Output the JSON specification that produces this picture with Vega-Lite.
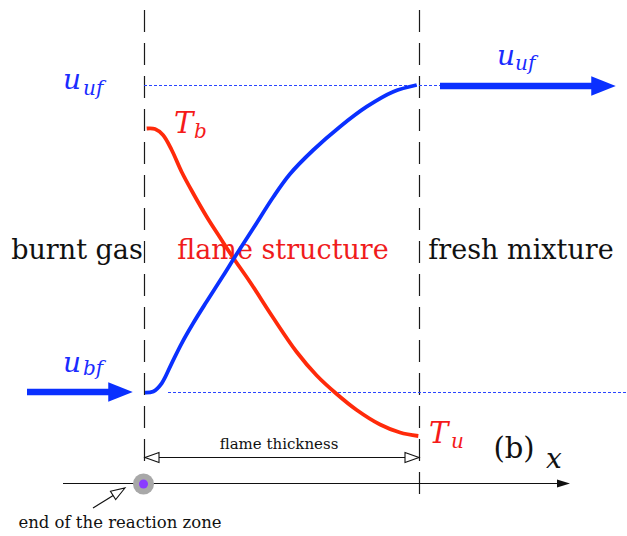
{
  "$schema": "https://vega.github.io/schema/vega-lite/v6.json",
  "width": 627,
  "height": 536,
  "padding": 0,
  "autosize": {"type": "none"},
  "background": "white",
  "config": {"view": {"stroke": null}},
  "datasets": {
    "curves": [
      {"series": "T", "x": 146.7, "y": 128.5},
      {"series": "T", "x": 155, "y": 129},
      {"series": "T", "x": 163, "y": 135},
      {"series": "T", "x": 171.7, "y": 150},
      {"series": "T", "x": 181.7, "y": 172},
      {"series": "T", "x": 193, "y": 193},
      {"series": "T", "x": 206.7, "y": 216.7},
      {"series": "T", "x": 220, "y": 237.5},
      {"series": "T", "x": 233, "y": 257.5},
      {"series": "T", "x": 250, "y": 282},
      {"series": "T", "x": 273, "y": 317.5},
      {"series": "T", "x": 296.7, "y": 352},
      {"series": "T", "x": 316.7, "y": 375.5},
      {"series": "T", "x": 336.7, "y": 394},
      {"series": "T", "x": 356.7, "y": 410},
      {"series": "T", "x": 380, "y": 424.5},
      {"series": "T", "x": 400, "y": 432.5},
      {"series": "T", "x": 418.3, "y": 436},
      {"series": "u", "x": 145, "y": 392.7},
      {"series": "u", "x": 153.3, "y": 391.5},
      {"series": "u", "x": 161.7, "y": 383.3},
      {"series": "u", "x": 171.7, "y": 363.3},
      {"series": "u", "x": 181.7, "y": 343.3},
      {"series": "u", "x": 193.3, "y": 323},
      {"series": "u", "x": 206.7, "y": 301.5},
      {"series": "u", "x": 223.3, "y": 275.5},
      {"series": "u", "x": 236.7, "y": 254},
      {"series": "u", "x": 253.3, "y": 228.3},
      {"series": "u", "x": 273.3, "y": 197},
      {"series": "u", "x": 290, "y": 174},
      {"series": "u", "x": 313.3, "y": 150},
      {"series": "u", "x": 340, "y": 126.7},
      {"series": "u", "x": 366.7, "y": 106.7},
      {"series": "u", "x": 393.3, "y": 91.7},
      {"series": "u", "x": 416.7, "y": 85}
    ],
    "vrules": [
      {"x": 144.5, "y": 10, "y2": 466},
      {"x": 419.5, "y": 10, "y2": 503}
    ],
    "dotted": [
      {"x": 144, "x2": 440, "y": 85.5},
      {"x": 168, "x2": 627, "y": 392.5}
    ],
    "shafts": [
      {"x": 27, "x2": 110, "y": 392},
      {"x": 440, "x2": 594, "y": 86}
    ],
    "bheads": [
      {"x": 120.5, "y": 392},
      {"x": 603.5, "y": 86}
    ],
    "thin": [
      {"x": 150, "x2": 414, "y": 457.5},
      {"x": 63, "x2": 562, "y": 483.5}
    ],
    "diag": [
      {"x": 93, "y": 508, "x2": 114, "y2": 495}
    ],
    "openheads": [
      {"x": 152, "y": 457.5, "dir": 180},
      {"x": 412, "y": 457.5, "dir": 0},
      {"x": 119, "y": 491.7, "dir": 328}
    ],
    "axhead": [
      {"x": 563.5, "y": 483.5}
    ],
    "dot": [
      {"x": 143.5, "y": 484}
    ],
    "labels": [
      {"role": "region", "text": "burnt gas", "x": 77, "y": 259},
      {"role": "region", "text": "fresh mixture", "x": 521, "y": 259},
      {"role": "regionred", "text": "flame structure", "x": 283, "y": 259},
      {"role": "mathBlue", "text": "u", "x": 63, "y": 89},
      {"role": "mathBlue", "text": "u", "x": 497, "y": 65},
      {"role": "mathBlue", "text": "u", "x": 63, "y": 372},
      {"role": "subBlue", "text": "uf", "x": 83, "y": 95},
      {"role": "subBlue", "text": "uf", "x": 515, "y": 70},
      {"role": "subBlue", "text": "bf", "x": 83, "y": 375},
      {"role": "mathRed", "text": "T", "x": 174, "y": 133},
      {"role": "mathRed", "text": "T", "x": 429, "y": 443},
      {"role": "subRed", "text": "b", "x": 194, "y": 138},
      {"role": "subRed", "text": "u", "x": 451, "y": 448},
      {"role": "xlabel", "text": "x", "x": 546, "y": 468},
      {"role": "panel", "text": "(b)", "x": 514, "y": 458},
      {"role": "small", "text": "flame thickness", "x": 279, "y": 449},
      {"role": "caption", "text": "end of the reaction zone", "x": 120, "y": 528}
    ]
  },
  "encoding": {
    "x": {"field": "x", "type": "quantitative", "scale": {"domain": [0, 627], "nice": false, "zero": false}, "axis": null},
    "y": {"field": "y", "type": "quantitative", "scale": {"domain": [0, 536], "nice": false, "zero": false, "reverse": true}, "axis": null}
  },
  "layer": [
    {
      "data": {"name": "vrules"},
      "mark": {"type": "rule", "color": "#1a1a1a", "strokeWidth": 1.2, "strokeDash": [22, 11]},
      "encoding": {"y2": {"field": "y2"}}
    },
    {
      "data": {"name": "dotted"},
      "mark": {"type": "rule", "color": "#2a45ff", "strokeWidth": 1.2, "strokeDash": [3, 2]},
      "encoding": {"x2": {"field": "x2"}}
    },
    {
      "data": {"name": "labels"},
      "transform": [{"filter": "datum.role == 'region'"}],
      "mark": {"type": "text", "font": "DejaVu Serif", "fontSize": 27, "align": "center", "baseline": "alphabetic", "color": "#111111"},
      "encoding": {"text": {"field": "text"}}
    },
    {
      "data": {"name": "labels"},
      "transform": [{"filter": "datum.role == 'regionred'"}],
      "mark": {"type": "text", "font": "DejaVu Serif", "fontSize": 27, "align": "center", "baseline": "alphabetic", "color": "#f01c1c"},
      "encoding": {"text": {"field": "text"}}
    },
    {
      "data": {"name": "curves"},
      "mark": {"type": "line", "strokeWidth": 3.8, "interpolate": "catmull-rom", "strokeCap": "butt"},
      "encoding": {
        "color": {"field": "series", "type": "nominal", "scale": {"domain": ["T", "u"], "range": ["#ff2a0a", "#0a30ff"]}, "legend": null}
      }
    },
    {
      "data": {"name": "shafts"},
      "mark": {"type": "rule", "color": "#0a30ff", "strokeWidth": 6.5},
      "encoding": {"x2": {"field": "x2"}}
    },
    {
      "data": {"name": "bheads"},
      "mark": {"type": "point", "shape": "M -1 -0.8 L 1 0 L -1 0.8 Z", "filled": true, "color": "#0a30ff", "size": 600, "opacity": 1}
    },
    {
      "data": {"name": "thin"},
      "mark": {"type": "rule", "color": "#111111", "strokeWidth": 1.2},
      "encoding": {"x2": {"field": "x2"}}
    },
    {
      "data": {"name": "diag"},
      "mark": {"type": "rule", "color": "#111111", "strokeWidth": 1.2},
      "encoding": {"x2": {"field": "x2"}, "y2": {"field": "y2"}}
    },
    {
      "data": {"name": "openheads"},
      "mark": {"type": "point", "shape": "M -1 -0.7 L 1 0 L -1 0.7 Z", "filled": true, "fill": "white", "stroke": "#111111", "strokeWidth": 1.1, "size": 196, "opacity": 1},
      "encoding": {"angle": {"field": "dir", "type": "quantitative", "scale": null}}
    },
    {
      "data": {"name": "axhead"},
      "mark": {"type": "point", "shape": "M -1 -0.62 L 1 0 L -1 0.62 Z", "filled": true, "color": "#111111", "size": 169, "opacity": 1}
    },
    {
      "data": {"name": "dot"},
      "mark": {"type": "point", "shape": "circle", "filled": true, "color": "#a8a8a8", "size": 441, "opacity": 1}
    },
    {
      "data": {"name": "dot"},
      "mark": {"type": "point", "shape": "circle", "filled": true, "color": "#8a3cff", "size": 81, "opacity": 1}
    },
    {
      "data": {"name": "labels"},
      "transform": [{"filter": "datum.role == 'mathBlue'"}],
      "mark": {"type": "text", "font": "DejaVu Serif", "fontStyle": "italic", "fontSize": 28, "align": "left", "baseline": "alphabetic", "color": "#1a2cff"},
      "encoding": {"text": {"field": "text"}}
    },
    {
      "data": {"name": "labels"},
      "transform": [{"filter": "datum.role == 'subBlue'"}],
      "mark": {"type": "text", "font": "DejaVu Serif", "fontStyle": "italic", "fontSize": 20, "align": "left", "baseline": "alphabetic", "color": "#1a2cff"},
      "encoding": {"text": {"field": "text"}}
    },
    {
      "data": {"name": "labels"},
      "transform": [{"filter": "datum.role == 'mathRed'"}],
      "mark": {"type": "text", "font": "DejaVu Serif", "fontStyle": "italic", "fontSize": 29, "align": "left", "baseline": "alphabetic", "color": "#f51a1a"},
      "encoding": {"text": {"field": "text"}}
    },
    {
      "data": {"name": "labels"},
      "transform": [{"filter": "datum.role == 'subRed'"}],
      "mark": {"type": "text", "font": "DejaVu Serif", "fontStyle": "italic", "fontSize": 20, "align": "left", "baseline": "alphabetic", "color": "#f51a1a"},
      "encoding": {"text": {"field": "text"}}
    },
    {
      "data": {"name": "labels"},
      "transform": [{"filter": "datum.role == 'xlabel'"}],
      "mark": {"type": "text", "font": "DejaVu Serif", "fontStyle": "italic", "fontSize": 28, "align": "left", "baseline": "alphabetic", "color": "#111111"},
      "encoding": {"text": {"field": "text"}}
    },
    {
      "data": {"name": "labels"},
      "transform": [{"filter": "datum.role == 'panel'"}],
      "mark": {"type": "text", "font": "DejaVu Serif", "fontSize": 29, "align": "center", "baseline": "alphabetic", "color": "#111111"},
      "encoding": {"text": {"field": "text"}}
    },
    {
      "data": {"name": "labels"},
      "transform": [{"filter": "datum.role == 'small'"}],
      "mark": {"type": "text", "font": "DejaVu Serif", "fontSize": 15, "align": "center", "baseline": "alphabetic", "color": "#111111"},
      "encoding": {"text": {"field": "text"}}
    },
    {
      "data": {"name": "labels"},
      "transform": [{"filter": "datum.role == 'caption'"}],
      "mark": {"type": "text", "font": "DejaVu Serif", "fontSize": 16.5, "align": "center", "baseline": "alphabetic", "color": "#111111"},
      "encoding": {"text": {"field": "text"}}
    }
  ]
}
